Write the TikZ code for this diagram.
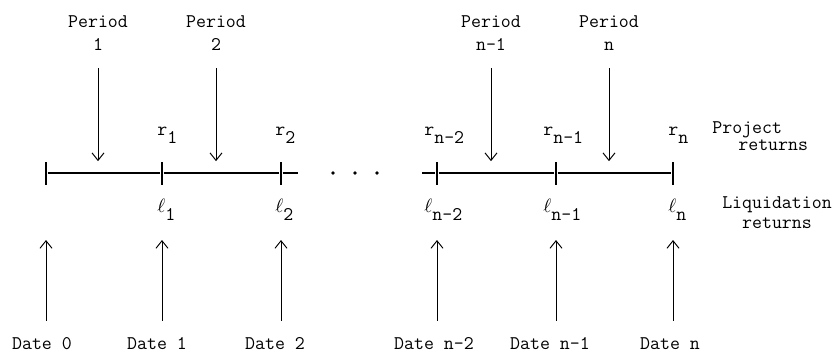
\documentclass[tikz,border=0pt]{standalone}
\usepackage{amsmath,amssymb}
\usepackage{xcolor}
\usepackage{tikz}
\usetikzlibrary{calc,arrows.meta,positioning}
\tikzset{
  axis/.style={draw=black, line width=0.6pt},
  tickmark/.style={fill=black, inner sep=0pt, minimum width=0.05cm, minimum height=0.46cm},
  arr/.style={draw=black, line width=0.55pt, -{Straight Barb[length=1.5mm,width=2.4mm]}},
  lbl/.style={font=\ttfamily\fontsize{11}{13.5}\selectfont, inner sep=0pt},
  dot/.style={circle, fill=black, inner sep=0pt, minimum size=0.075cm}
}
\newcommand{\lowsub}[2]{#1\raisebox{-5pt}{#2}}

\begin{document}
\begin{tikzpicture}[x=0.02cm, y=-0.02cm]
  \useasboundingbox (0,0) rectangle (835,353);

  % dates on the time line
  \node[tickmark] (T0) at (46,173) {};
  \node[tickmark] (T1) at (162,173) {};
  \node[tickmark] (T2) at (281,173) {};
  \node[tickmark] (T3) at (437,173) {};
  \node[tickmark] (T4) at (556,173) {};
  \node[tickmark] (T5) at (673,173) {};
  \coordinate (S2) at (298,173);
  \coordinate (S3) at (422,173);

  \draw[axis] (T0) -- (T1) -- (T2) -- (S2);
  \draw[axis] (S3) -- (T3) -- (T4) -- (T5);

  \node[dot] (e1) at (333,173) {};
  \node[dot] (e2) at (355,173) {};
  \node[dot] (e3) at (377,173) {};

  % periods
  \node[lbl, align=center] (P1) at (98,33) {Period\\1};
  \node[lbl, align=center] (P2) at (216,33) {Period\\2};
  \node[lbl, align=center] (P3) at (491,33) {Period\\n-1};
  \node[lbl, align=center] (P4) at (609,33) {Period\\n};
  \draw[arr, shorten <=0.34cm] (P1) -- (P1 |- T0.north);
  \draw[arr, shorten <=0.34cm] (P2) -- (P2 |- T0.north);
  \draw[arr, shorten <=0.34cm] (P3) -- (P3 |- T0.north);
  \draw[arr, shorten <=0.34cm] (P4) -- (P4 |- T0.north);

  % project returns
  \node[lbl, anchor=base west] (r1) at ($(T1)+(-5,-38)$) {\lowsub{r}{1}};
  \node[lbl, anchor=base west] (r2) at ($(T2)+(-6,-38)$) {\lowsub{r}{2}};
  \node[lbl, anchor=base west] (r3) at ($(T3)+(-13,-38)$) {\lowsub{r}{n-2}};
  \node[lbl, anchor=base west] (r4) at ($(T4)+(-13,-38)$) {\lowsub{r}{n-1}};
  \node[lbl, anchor=base west] (r5) at ($(T5)+(-5,-38)$) {\lowsub{r}{n}};
  \node[lbl, anchor=base west] (proj) at (712,133) {Project};
  \node[lbl, anchor=base west] (projret) at (738,150) {returns};

  % liquidation returns
  \node[lbl, anchor=base west] (l1) at ($(T1)+(-5,39)$) {\lowsub{$\ell$}{1}};
  \node[lbl, anchor=base west] (l2) at ($(T2)+(-6,39)$) {\lowsub{$\ell$}{2}};
  \node[lbl, anchor=base west] (l3) at ($(T3)+(-13,39)$) {\lowsub{$\ell$}{n-2}};
  \node[lbl, anchor=base west] (l4) at ($(T4)+(-13,39)$) {\lowsub{$\ell$}{n-1}};
  \node[lbl, anchor=base west] (l5) at ($(T5)+(-5,39)$) {\lowsub{$\ell$}{n}};
  \node[lbl, anchor=base] (liq) at (777,208) {Liquidation};
  \node[lbl, anchor=base] (liqret) at (777,228) {returns};

  % dates
  \node[lbl, anchor=base] (D0) at (42,349) {Date 0};
  \node[lbl, anchor=base] (D1) at (157,349) {Date 1};
  \node[lbl, anchor=base] (D2) at (275,349) {Date 2};
  \node[lbl, anchor=base] (D3) at (434,349) {Date n-2};
  \node[lbl, anchor=base] (D4) at (550,349) {Date n-1};
  \node[lbl, anchor=base] (D5) at (670,349) {Date n};
  \draw[arr, shorten <=0.32cm] (T0 |- D0.north) -- ($(T0)+(0,67)$);
  \draw[arr, shorten <=0.32cm] (T1 |- D1.north) -- ($(T1)+(0,67)$);
  \draw[arr, shorten <=0.32cm] (T2 |- D2.north) -- ($(T2)+(0,67)$);
  \draw[arr, shorten <=0.32cm] (T3 |- D3.north) -- ($(T3)+(0,67)$);
  \draw[arr, shorten <=0.32cm] (T4 |- D4.north) -- ($(T4)+(0,67)$);
  \draw[arr, shorten <=0.32cm] (T5 |- D5.north) -- ($(T5)+(0,67)$);
\end{tikzpicture}
\end{document}
